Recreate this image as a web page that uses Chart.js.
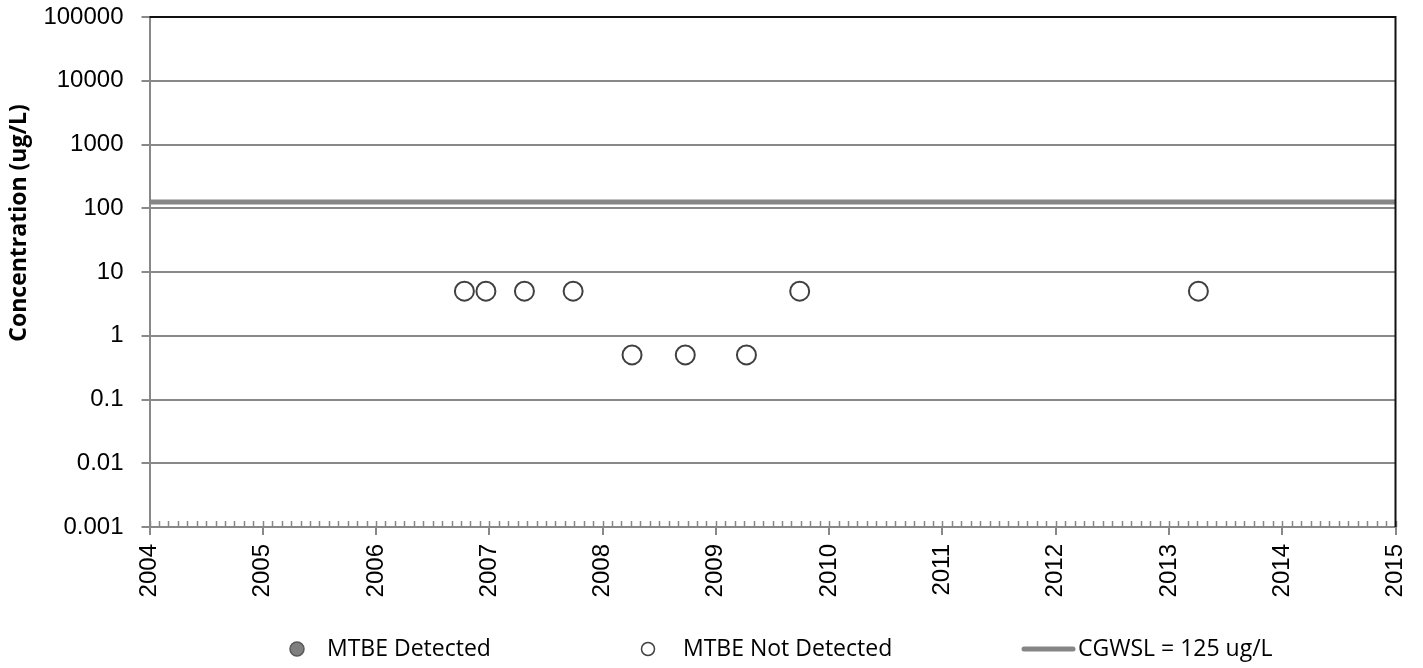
<!DOCTYPE html>
<html>
<head>
<meta charset="utf-8">
<title>MTBE concentration</title>
<script src="https://cdn.jsdelivr.net/npm/chart.js@4.4.1/dist/chart.umd.min.js"></script>
<style>
  html, body { margin: 0; padding: 0; background: #fff; }
  #wrap { width: 1423px; height: 668px; }
</style>
</head>
<body>
<div id="wrap"><canvas id="myChart" width="1423" height="668"></canvas></div>
<script>
// data (x = decimal year)
const years = [2004, 2005, 2006, 2007, 2008, 2009, 2010, 2011, 2012, 2013, 2014, 2015];
const yTicks = [0.001, 0.01, 0.1, 1, 10, 100, 1000, 10000, 100000];

const detectedDates = [];
const detectedValues = [];

const notDetectedDates = [2006.78, 2006.97, 2007.31, 2007.74, 2008.26, 2008.73, 2009.27, 2009.74, 2013.26];
const notDetectedValues = [5, 5, 5, 5, 0.5, 0.5, 0.5, 5, 5];

const cgwslDates = [2004, 2015];
const cgwslValues = [125, 125];

const seriesNames = ['MTBE Detected', 'MTBE Not Detected', 'CGWSL = 125 ug/L'];
const yTitle = 'Concentration (ug/L)';

const GRID = '#888888';
const toPoints = (xs, ys) => xs.map((x, i) => ({ x: x, y: ys[i] }));

// monthly minor ticks on the date axis
const minorTicks = [];
for (let yr = years[0]; yr < years[years.length - 1]; yr++) {
  for (let m = 0; m < 12; m++) minorTicks.push(yr + m / 12);
}
minorTicks.push(years[years.length - 1]);

const decor = {
  id: 'decor',
  afterDraw(chart) {
    const { ctx, chartArea: a } = chart;
    const x = chart.scales.x;
    ctx.save();

    // minor ticks, pointing into the plot
    ctx.strokeStyle = GRID;
    ctx.lineWidth = 1.5;
    ctx.beginPath();
    minorTicks.forEach((v) => {
      const px = Math.round(x.getPixelForValue(v)) + 0.5;
      ctx.moveTo(px, a.bottom);
      ctx.lineTo(px, a.bottom - 6);
    });
    ctx.stroke();

    // black frame on top and right
    ctx.strokeStyle = '#111';
    ctx.lineWidth = 2;
    ctx.beginPath();
    ctx.moveTo(a.left, a.top);
    ctx.lineTo(a.right, a.top);
    ctx.lineTo(a.right, a.bottom);
    ctx.stroke();

    // y axis title
    ctx.fillStyle = '#000';
    ctx.font = 'bold 23px "Open Sans"';
    ctx.textAlign = 'center';
    ctx.textBaseline = 'middle';
    ctx.translate(19, 223);
    ctx.rotate(-Math.PI / 2);
    ctx.fillText(yTitle, 0, 0);
    ctx.restore();

    // legend
    ctx.save();
    const ly = 649;
    const ds = chart.data.datasets;
    ctx.font = '23px "Open Sans"';
    ctx.textBaseline = 'middle';
    ctx.textAlign = 'left';

    ctx.beginPath();
    ctx.arc(297, ly, 7, 0, Math.PI * 2);
    ctx.fillStyle = ds[0].backgroundColor;
    ctx.fill();
    ctx.lineWidth = 1.5;
    ctx.strokeStyle = ds[0].borderColor;
    ctx.stroke();
    ctx.fillStyle = '#000';
    ctx.fillText(ds[0].label, 327, ly);

    ctx.beginPath();
    ctx.arc(648, ly, 6.5, 0, Math.PI * 2);
    ctx.fillStyle = ds[1].backgroundColor;
    ctx.fill();
    ctx.lineWidth = 1.5;
    ctx.strokeStyle = ds[1].borderColor;
    ctx.stroke();
    ctx.fillStyle = '#000';
    ctx.fillText(ds[1].label, 683, ly);

    ctx.beginPath();
    ctx.moveTo(1024, ly);
    ctx.lineTo(1073, ly);
    ctx.lineCap = 'round';
    ctx.lineWidth = 5;
    ctx.strokeStyle = ds[2].borderColor;
    ctx.stroke();
    ctx.fillStyle = '#000';
    ctx.fillText(ds[2].label, 1078, ly);
    ctx.restore();
  }
};

Chart.defaults.font.family = '"Liberation Sans", Arial, sans-serif';
Chart.defaults.color = '#000';

const config = {
  type: 'scatter',
  data: {
    datasets: [
      {
        label: seriesNames[0],
        data: toPoints(detectedDates, detectedValues),
        backgroundColor: '#7f7f7f',
        borderColor: '#595959',
        pointRadius: 9,
        borderWidth: 2,
      },
      {
        label: seriesNames[1],
        data: toPoints(notDetectedDates, notDetectedValues),
        backgroundColor: '#ffffff',
        borderColor: '#404040',
        pointRadius: 9.5,
        borderWidth: 2,
      },
      {
        label: seriesNames[2],
        type: 'line',
        data: toPoints(cgwslDates, cgwslValues),
        borderColor: '#868686',
        backgroundColor: '#868686',
        borderWidth: 5,
        pointRadius: 0,
        fill: false,
        clip: 4,
      },
    ],
  },
  options: {
    responsive: false,
    animation: false,
    layout: { padding: { top: 17, right: 27.5, bottom: 0, left: 0 } },
    plugins: {
      legend: { display: false },
      tooltip: { enabled: false },
    },
    scales: {
      x: {
        type: 'linear',
        min: 2004,
        max: 2015,
        afterBuildTicks: (scale) => {
          scale.ticks = years.map((v) => ({ value: v }));
        },
        afterFit: (scale) => {
          scale.height = 141;
          scale.paddingLeft = 0;
          scale.paddingRight = 0;
        },
        ticks: {
          callback: (v) => String(v),
          minRotation: 90,
          maxRotation: 90,
          padding: 9,
          font: { size: 24 },
        },
        grid: {
          drawOnChartArea: false,
          drawTicks: true,
          tickLength: 8,
          color: GRID,
          lineWidth: 2,
        },
        border: { color: GRID, width: 2 },
      },
      y: {
        type: 'logarithmic',
        min: 0.001,
        max: 100000,
        afterBuildTicks: (scale) => {
          scale.ticks = yTicks.map((v) => ({ value: v }));
        },
        afterFit: (scale) => {
          scale.width = 149.5;
          scale.paddingTop = 0;
          scale.paddingBottom = 0;
        },
        ticks: {
          callback: (v) => String(v),
          padding: 18,
          font: { size: 24 },
        },
        grid: {
          color: GRID,
          lineWidth: 2,
          tickLength: 8,
        },
        border: { color: GRID, width: 2 },
      },
    },
  },
  plugins: [decor],
};

const myChart = new Chart(document.getElementById('myChart'), config);
</script>
</body>
</html>
